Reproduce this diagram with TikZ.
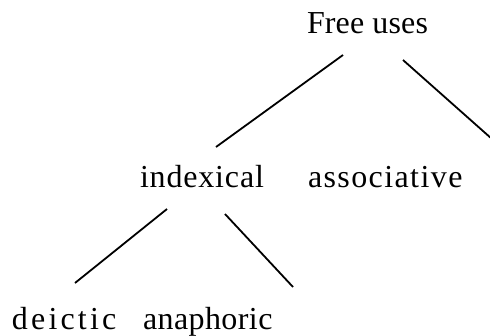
\documentclass[tikz,border=0pt]{standalone}
\usepackage{fontspec}
\setmainfont{Liberation Serif}
\usetikzlibrary{calc}
\begin{document}
\begin{tikzpicture}[x=1pt,y=-1pt,
  lbl/.style={anchor=base west,inner sep=0pt,outer sep=0pt,font=\fontsize{32}{36}\selectfont},
  edge/.style={line width=1.8pt}]
\useasboundingbox (0,0) rectangle (490,335);
\node[lbl] (free) at (307,33) {\addfontfeature{LetterSpace=0.5}Free uses};
\node[lbl] (indexical) at (140,187) {\addfontfeature{LetterSpace=2.6}indexical};
\node[lbl] (associative) at (308,187) {\addfontfeature{LetterSpace=4.4}associative};
\node[lbl] (deictic) at (12,329) {\addfontfeature{LetterSpace=9.9}deictic};
\node[lbl] (anaphoric) at (143,329) {\addfontfeature{LetterSpace=1.3}anaphoric};
\draw[edge] ($(free.base west)+(36,22)$) -- ($(indexical.base west)+(76,-40)$);
\draw[edge] ($(free.base west)+(96,27)$) -- ($(associative.base west)+(184,-48)$);
\draw[edge] ($(indexical.base west)+(27,22)$) -- ($(deictic.base west)+(63,-46)$);
\draw[edge] ($(indexical.base west)+(85,27)$) -- ($(anaphoric.base west)+(150,-42)$);
\end{tikzpicture}
\end{document}
